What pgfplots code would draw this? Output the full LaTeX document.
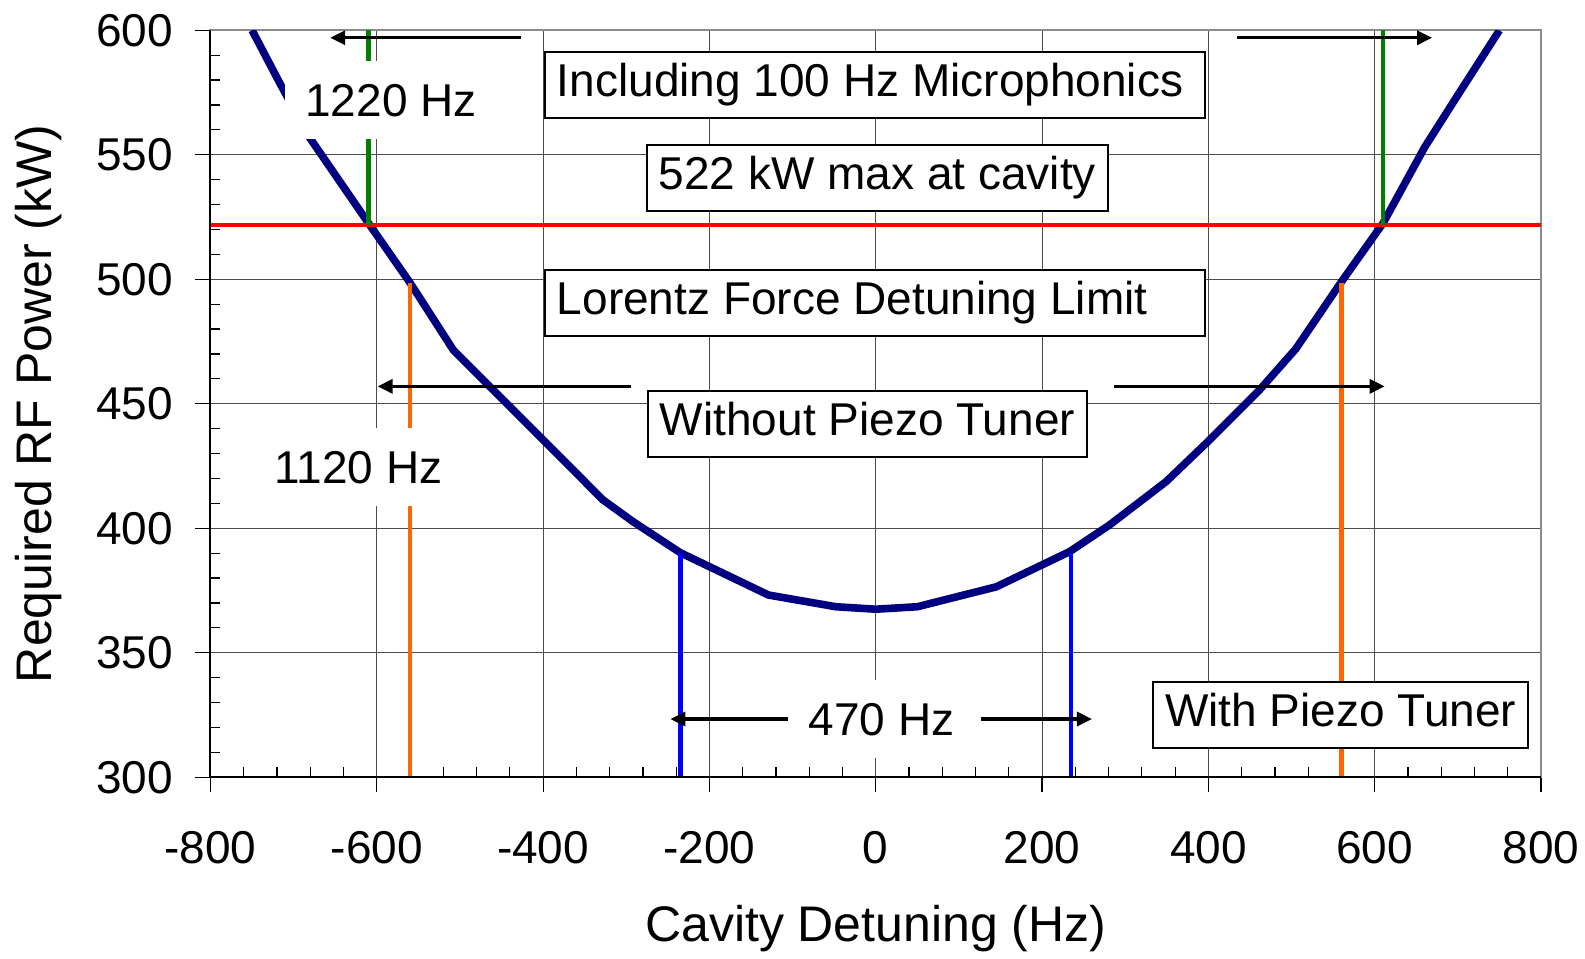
\documentclass[border=0pt]{standalone}
\usepackage{fontspec}
\setmainfont{Liberation Sans}
\usepackage{pgfplots}
\pgfplotsset{compat=1.18}
\usetikzlibrary{arrows.meta}

\definecolor{curvenavy}{RGB}{0,0,128}
\definecolor{limred}{RGB}{255,0,0}
\definecolor{micgreen}{RGB}{0,128,0}
\definecolor{lfdorange}{RGB}{255,102,0}
\definecolor{piezoblue}{RGB}{0,0,255}

\begin{document}
\begin{tikzpicture}[
  lbl/.style={font=\fontsize{23}{27}\selectfont, text height=16.5pt, text depth=5pt},
  box/.style={lbl, draw=black, line width=1pt, fill=white, inner xsep=6pt, inner ysep=0pt, minimum height=33pt},
  mask/.style={lbl, fill=white, inner xsep=10pt, inner ysep=0pt, minimum height=39pt, text depth=0pt},
  dim/.style={black, line width=1.6pt, -{Triangle[length=7.5pt,width=7pt]}}
]
\begin{axis}[
  name=ax,
  scale only axis,
  width=665.25pt, height=373.5pt,
  xmin=-800, xmax=800, ymin=300, ymax=600,
  xtick={-800,-600,...,800},
  ytick={300,350,...,600},
  minor x tick num=4, minor y tick num=4,
  xtick pos=left, ytick pos=left,
  tick align=outside,
  major tick length=7.5pt,
  minor tick length=5pt,
  minor x tick style={yshift=5pt},
  minor y tick style={xshift=5pt},
  tick style={black, line width=0.6pt},
  grid=major,
  major grid style={black!70, line width=0.5pt},
  axis line style={draw=black!45, line width=1pt},
  clip mode=individual,
  /pgf/number format/assume math mode=true,
  tick label style={font=\fontsize{23}{27}\selectfont},
  xticklabel style={yshift=-15.8pt},
  yticklabel style={xshift=-7.8pt},
  xlabel={Cavity Detuning (Hz)},
  ylabel={Required RF Power (kW)},
  every axis x label/.style={at={(axis description cs:0.5,0)}, anchor=center, yshift=-75.5pt, font=\fontsize{25}{30}\selectfont},
  every axis y label/.style={at={(axis description cs:0,0.5)}, anchor=center, xshift=-86pt, rotate=90, font=\fontsize{25}{30}\selectfont},
]
% required forward power versus cavity detuning
\addplot[curvenavy, line width=3.8pt, line join=round] coordinates {
  (-750,600) (-717,579) (-681,557) (-612,523.5) (-560,498.6) (-508,471.6)
  (-456,454.2) (-400,435.5) (-328,411.4) (-292,402.7) (-235,390.2)
  (-129,373.2) (-48,368.5) (0,367.5) (50,368.5) (145,376.5) (233,390.6)
  (281,401.3) (349,418.7) (400,435) (460,455) (505,472) (560,499)
  (610,522.5) (660,553) (700,574) (750,600)
};
% available power at the cavity
\addplot[limred, line width=2pt] coordinates {(-800,522) (800,522)};
% detuning limits: microphonics, Lorentz force, piezo tuner
\addplot[micgreen, line width=2.2pt] coordinates {(-610,522) (-610,600)};
\addplot[micgreen, line width=2.2pt] coordinates {(610,522) (610,600)};
\addplot[lfdorange, line width=2.2pt] coordinates {(-560,300) (-560,498.6)};
\addplot[lfdorange, line width=2.2pt] coordinates {(560,300) (560,498.6)};
\addplot[piezoblue, line width=2.2pt] coordinates {(-235,300) (-235,390.2)};
\addplot[piezoblue, line width=2.2pt] coordinates {(235,300) (235,390.2)};

\draw[black, line width=1pt] (axis cs:-800,600) -- (axis cs:-800,300) -- (axis cs:800,300);

\draw[dim] (axis cs:-427,597) -- (axis cs:-656,597);
\draw[dim] (axis cs:435,597) -- (axis cs:669,597);
\draw[dim] (axis cs:-294,457) -- (axis cs:-599,457);
\draw[dim] (axis cs:287,457) -- (axis cs:612,457);
\draw[dim] (axis cs:-106,323.4) -- (axis cs:-247,323.4);
\draw[dim] (axis cs:126,323.4) -- (axis cs:260,323.4);

\node[box] at (axis cs:-1,578) {\makebox[318pt][l]{Including 100 Hz Microphonics}};
\node[box] at (axis cs:2,540.5) {522 kW max at cavity};
\node[box] at (axis cs:-1,490.6) {\makebox[318pt][l]{Lorentz Force Detuning Limit}};
\node[box] at (axis cs:-10,442) {Without Piezo Tuner};
\node[box] at (axis cs:559,325) {With Piezo Tuner};
\node[mask] at (axis cs:-583,572.2) {1220 Hz};
\node[mask] at (axis cs:-622,424.5) {1120 Hz};
\node[mask] at (axis cs:7,323.5) {470 Hz};
\end{axis}
\pgfresetboundingbox
\path ([shift={(-105.25pt,-90.85pt)}]ax.south west) rectangle ([shift={(22pt,15.15pt)}]ax.north east);
\end{tikzpicture}
\end{document}
